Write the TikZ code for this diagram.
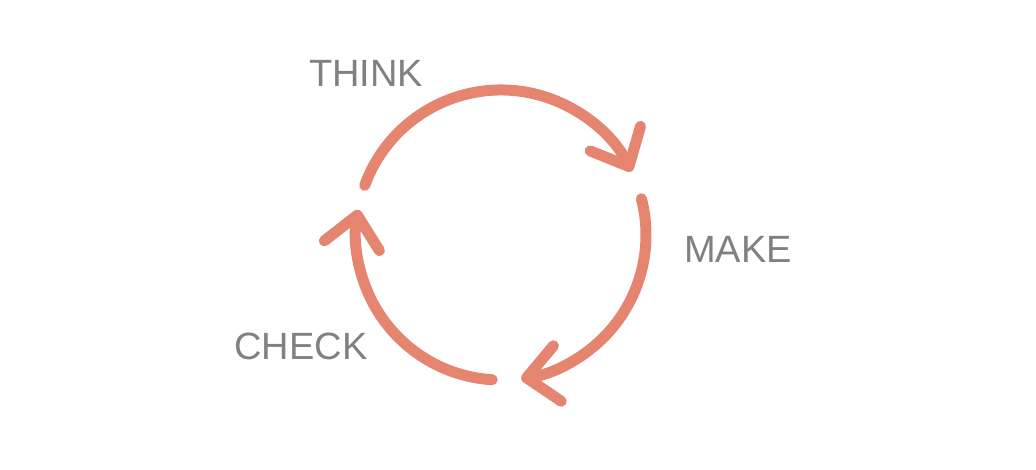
\documentclass[tikz,border=0pt]{standalone}
\usepackage{fontspec}
\setmainfont{Liberation Sans}
\usetikzlibrary{arrows.meta}
\definecolor{arccolor}{RGB}{229,132,111}
\definecolor{labelgray}{RGB}{128,128,128}
\tikzset{every picture/.style={line width=0.75pt}}

\begin{document}
\begin{tikzpicture}[x=1pt,y=1pt,
	cyclearc/.style={draw=arccolor, line width=11pt, line cap=round, -{Straight Barb[length=31pt, width=56pt, round]}},
	cyclelabel/.style={text=labelgray, inner sep=0pt, font=\fontsize{38}{40}\selectfont}]
	\useasboundingbox (0,0) rectangle (1036,470);
	\coordinate (c) at (501,235);
	\draw [cyclearc] (c) ++(160:145) arc [start angle=160, end angle=26, radius=145];
	\draw [cyclearc] (c) ++(14.5:145) arc [start angle=14.5, end angle=-82, radius=145];
	\draw [cyclearc] (c) ++(-93.5:145) arc [start angle=-93.5, end angle=-190, radius=145];
	\node [cyclelabel] (think) at (366,397) {THINK};
	\node [cyclelabel] (make) at (738,221) {MAKE};
	\node [cyclelabel] (check) at (301,124) {CHECK};
\end{tikzpicture}
\end{document}
